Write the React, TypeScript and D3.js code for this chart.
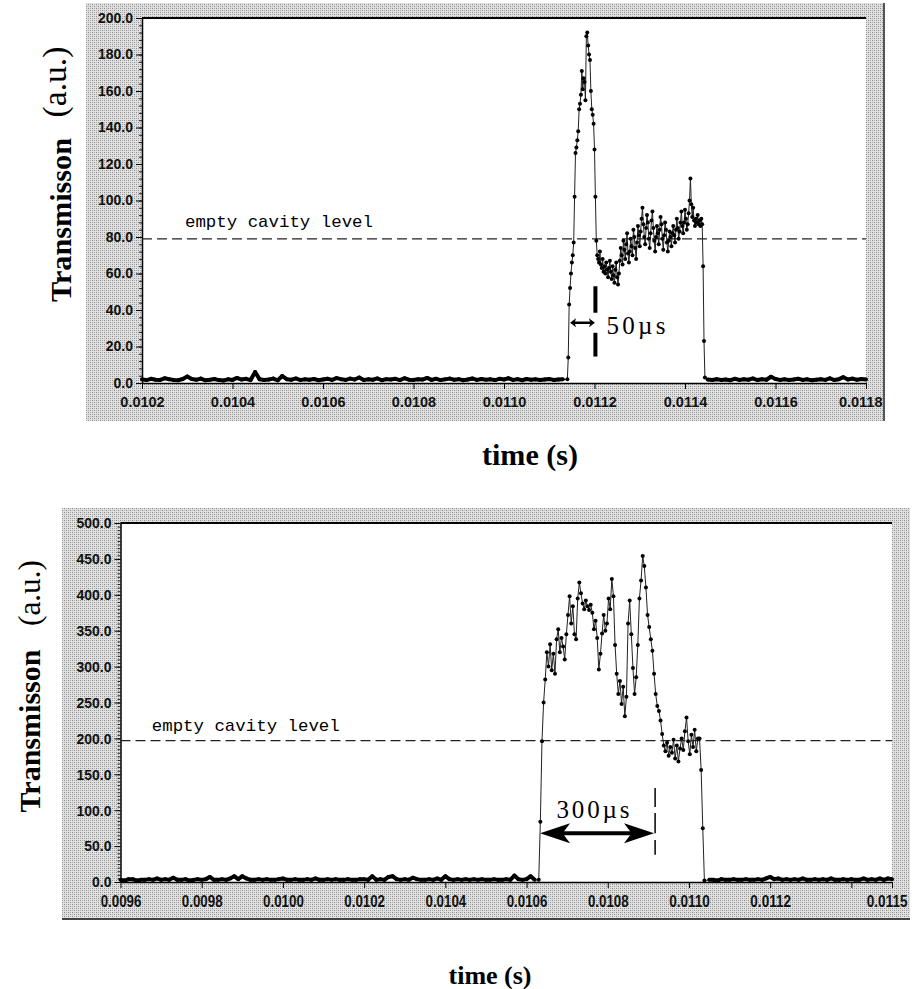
import React, { useEffect, useRef } from "react";
import * as d3 from "d3";

// ---- top trace: baseline sampled every 10 us, pulse every 2 us (a.u.)
const topPreStart = 0.0102;
const topPreValues = [
  2.0, 1.6, 2.3, 1.8, 1.7, 2.6, 2.1, 1.7, 1.5, 2.2,
  3.6, 2.2, 1.8, 2.4, 1.5, 1.8, 2.2, 1.6, 1.4, 2.0,
  1.7, 2.8, 1.9, 2.3, 1.6, 6.0, 2.0, 1.7, 1.9, 2.4,
  1.5, 3.8, 2.1, 1.8, 2.5, 1.6, 2.0, 1.8, 2.2, 1.5,
  1.9, 2.3, 1.7, 2.7, 2.1, 1.7, 2.4, 1.9, 3.0, 1.6,
  2.0, 1.8, 2.5, 1.5, 2.1, 1.9, 2.3, 1.6, 2.6, 1.8,
  1.7, 2.1, 1.9, 2.8, 1.7, 2.3, 1.6, 2.0, 2.4, 1.8,
  2.1, 1.5, 1.9, 2.5, 1.7, 2.2, 1.8, 2.0, 1.6, 2.3,
  1.9, 2.6, 1.7, 2.1, 1.5, 2.2, 1.8, 2.0, 1.6, 1.9,
  2.2, 1.7, 1.9, 2.0,
];
const topPulseStart = 0.01114;
const topPulseValues = [
  2, 14, 43, 52, 60, 66, 70, 77, 102, 126, 129, 133, 138, 150, 153, 158, 171,
  161, 167, 165, 155, 190, 192, 185, 180, 177, 160, 150, 147, 142, 128, 102, 78,
  70, 68, 66, 72, 65, 63, 68, 61, 64, 60, 66, 62,
  58, 63, 67, 61, 57, 64, 59, 55, 62, 66, 58, 54,
  60, 67, 74, 70, 65, 78, 73, 68, 76, 82, 71, 66,
  72, 79, 75, 70, 84, 80, 74, 68, 77, 86, 81, 75,
  83, 90, 96, 87, 80, 76, 85, 92, 88, 79, 74, 82,
  89, 94, 85, 78, 72, 80, 86, 82, 76, 84, 91, 87,
  79, 73, 81, 88, 84, 77, 72, 78, 83, 80, 75, 82,
  86, 81, 77, 84, 90, 85, 79, 83, 88, 94, 86, 82,
  88, 95, 90, 84, 87, 93, 100, 112, 98, 91, 96, 89,
  86, 90, 88, 92, 87, 89, 86, 90, 87, 64, 23, 3,
];
const topPostStart = 0.01145;
const topPostValues = [
  1.9, 1.6, 2.1, 1.7, 1.9, 1.5, 2.3, 1.7, 2.0, 1.8,
  2.5, 1.6, 2.1, 1.8, 3.4, 2.2, 1.7, 2.0, 1.6, 1.9,
  2.3, 1.7, 2.0, 1.5, 1.8, 2.1, 1.7, 2.6, 1.6, 2.1,
  3.2, 1.9, 2.4, 1.8, 2.2, 1.9,
];
const topXTicks = [0.0102, 0.0104, 0.0106, 0.0108, 0.011, 0.0112, 0.0114, 0.0116, 0.0118];
const topXTickLabels = ["0.0102", "0.0104", "0.0106", "0.0108", "0.0110", "0.0112", "0.0114", "0.0116", "0.0118"];
const topYTicks = [0, 20, 40, 60, 80, 100, 120, 140, 160, 180, 200];
const topEmptyLevel = 79;
const topSpanTimes = [0.011146, 0.011201];
const topSpanLevel = 33;
const topMarkerTime = 0.011202;
const topMarkerDashes = [[53, 38.5], [27.5, 14.5]];
const topSpanLabel = "50µs";

// ---- bottom trace: baseline every 10 us, pulse every 4 us (a.u.)
const bottomPreStart = 0.0096;
const bottomPreValues = [
  3, 2, 4, 4, 2, 3, 3, 4, 3, 5,
  3, 4, 3, 6, 3, 3, 4, 2, 3, 4,
  3, 4, 7, 3, 3, 4, 3, 5, 8, 4,
  8, 5, 3, 3, 4, 3, 4, 3, 3, 4,
  5, 3, 3, 4, 3, 3, 4, 3, 5, 3,
  3, 4, 3, 4, 3, 3, 4, 3, 3, 4,
  4, 3, 8, 3, 4, 3, 7, 8, 4, 3,
  4, 3, 6, 4, 3, 3, 4, 3, 5, 3,
  8, 4, 3, 4, 3, 4, 3, 4, 3, 4,
  3, 3, 4, 3, 3, 4, 3, 9, 4, 3,
  4, 8, 3,
];
const bottomPulseStart = 0.01063;
const bottomPulseValues = [
  3, 84, 196, 250, 282, 320, 300, 331, 295, 318, 290, 338, 352, 320, 340, 328,
  310, 345, 372, 398, 360, 384, 345, 338, 395, 417, 402, 388, 380, 392, 384, 379,
  386, 375, 352, 364, 340, 296, 318, 346, 372, 350, 360, 395, 380, 422, 398, 330,
  290, 262, 280, 248, 272, 231, 258, 360, 392, 345, 298, 262, 285, 330, 395, 420,
  454, 440, 410, 372, 355, 338, 322, 290, 262, 245, 238, 225, 206, 190, 182, 194,
  176, 188, 180, 198, 172, 190, 168, 186, 200, 184, 210, 229, 196, 178, 205, 188,
  212, 182, 200, 200, 156, 75, 2,
];
const bottomPostStart = 0.01105;
const bottomPostValues = [
  3, 3, 2, 4, 3, 3, 4, 3, 3, 4,
  3, 3, 4, 3, 5, 7, 4, 5, 3, 4,
  3, 4, 3, 5, 3, 3, 4, 3, 4, 3,
  5, 3, 3, 4, 3, 4, 3, 3, 5, 3,
  4, 3, 5, 3, 5, 4,
];
const bottomXTicks = [0.0096, 0.0098, 0.01, 0.0102, 0.0104, 0.0106, 0.0108, 0.011, 0.0112, 0.0114, 0.0115];
const bottomXTickLabels = ["0.0096", "0.0098", "0.0100", "0.0102", "0.0104", "0.0106", "0.0108", "0.0110", "0.0112", "", "0.0115"];
const bottomYTicks = [0, 50, 100, 150, 200, 250, 300, 350, 400, 450, 500];
const bottomEmptyLevel = 197;
const bottomSpanTimes = [0.0106333, 0.010914];
const bottomSpanLevel = 68;
const bottomMarkerTime = 0.0109166;
const bottomMarkerDashes = [[131, 104.5], [96, 68], [58.5, 38]];
const bottomSpanLabel = "300µs";

const levelLabel = "empty cavity level";

const seg = (t0, dt, vals) => vals.map((v, i) => ({ t: t0 + i * dt, v }));

const topPanel = {
  frame: [86, 3, 885, 421],
  plot: { left: 142, right: 866, top: 18, bottom: 383 },
  xDomain: [0.0102, 0.0118],
  yDomain: [0, 200],
  xTicks: topXTicks,
  xTickLabels: topXTickLabels,
  yTicks: topYTicks,
  yMinorStep: 4,
  pre: seg(topPreStart, 10e-6, topPreValues),
  pulse: seg(topPulseStart, 2e-6, topPulseValues),
  post: seg(topPostStart, 10e-6, topPostValues),
  level: topEmptyLevel,
  levelLabelAt: 0.010295,
  levelLabelY: 227,
  span: topSpanTimes,
  spanLevel: topSpanLevel,
  markerTime: topMarkerTime,
  markerDashes: topMarkerDashes,
  markerWidth: 4,
  spanLabel: topSpanLabel,
  spanText: { x: 606.5, y: 334, len: 59 },
  head: [6, 4.5],
  shaft: 2.5,
  yFont: { size: 14, perDigit: 0, dot: 0 },
  xFont: { size: 14.5, perDigit: 7.9, dot: 3.9 },
  xFit: false,
  titleX: { x: 530, y: 465, size: 29, len: 96 },
  titleY: { x: 71, y: 220, size: 30, len: 164 },
  unitY: { x: 65.5, y: 82, size: 34, len: 71 },
  shadow: "right",
};

const bottomPanel = {
  frame: [62, 508, 910, 920],
  plot: { left: 120.5, right: 892, top: 523, bottom: 882 },
  xDomain: [0.0096, 0.0115],
  yDomain: [0, 500],
  xTicks: bottomXTicks,
  xTickLabels: bottomXTickLabels,
  yTicks: bottomYTicks,
  yMinorStep: 5,
  pre: seg(bottomPreStart, 10e-6, bottomPreValues),
  pulse: seg(bottomPulseStart, 4e-6, bottomPulseValues),
  post: seg(bottomPostStart, 10e-6, bottomPostValues),
  level: bottomEmptyLevel,
  levelLabelAt: 0.009677,
  levelLabelY: 731,
  span: bottomSpanTimes,
  spanLevel: bottomSpanLevel,
  markerTime: bottomMarkerTime,
  markerDashes: bottomMarkerDashes,
  markerWidth: 1.5,
  spanLabel: bottomSpanLabel,
  spanText: { x: 556.5, y: 818, len: 73 },
  head: [30, 10],
  shaft: 4,
  yFont: { size: 15, perDigit: 7.8, dot: 3.8 },
  xFont: { size: 16, perDigit: 7.4, dot: 3.7 },
  xFit: true,
  titleX: { x: 490, y: 984, size: 26, len: 83 },
  titleY: { x: 40, y: 731, size: 30, len: 163 },
  unitY: { x: 40, y: 593, size: 31, len: 66 },
  shadow: "bottom",
};

const labelWidth = (s, f) => (s.replace(".", "").length * f.perDigit + (s.includes(".") ? f.dot : 0));
const serif = "'Liberation Serif', 'Times New Roman', serif";
const sans = "'Liberation Sans', Arial, sans-serif";

function drawPanel(root, p) {
  const g = root.append("g");
  const [fx0, fy0, fx1, fy1] = p.frame;
  const { left, right, top, bottom } = p.plot;

  g.append("rect").attr("x", fx0).attr("y", fy0).attr("width", fx1 - fx0).attr("height", fy1 - fy0)
    .attr("fill", "url(#dither)");
  if (p.shadow === "right") {
    g.append("line").attr("x1", fx1 - 1).attr("x2", fx1 - 1).attr("y1", fy0).attr("y2", fy1)
      .attr("stroke", "#555").attr("stroke-width", 2);
  } else {
    g.append("line").attr("x1", fx0).attr("x2", fx1).attr("y1", fy1 - 1).attr("y2", fy1 - 1)
      .attr("stroke", "#444").attr("stroke-width", 2);
  }
  g.append("rect").attr("x", left).attr("y", top).attr("width", right - left).attr("height", bottom - top)
    .attr("fill", "white");

  const x = d3.scaleLinear().domain(p.xDomain).range([left, right]);
  const y = d3.scaleLinear().domain(p.yDomain).range([bottom, top]);

  // top border of the plot
  g.append("line").attr("x1", left).attr("x2", right).attr("y1", top).attr("y2", top)
    .attr("stroke", "black").attr("stroke-width", 2);

  // y axis: minor then major ticks
  const minor = d3.range(p.yDomain[0], p.yDomain[1] + 1e-9, p.yMinorStep);
  g.append("g").attr("transform", `translate(${left},0)`)
    .call(d3.axisLeft(y).tickValues(minor).tickSize(3).tickSizeOuter(0).tickFormat(() => ""))
    .call((s) => s.select(".domain").remove())
    .call((s) => s.selectAll("line").attr("stroke", "#222"));
  const ya = g.append("g").attr("transform", `translate(${left},0)`)
    .call(d3.axisLeft(y).tickValues(p.yTicks).tickSize(6).tickSizeOuter(0).tickPadding(3).tickFormat(d3.format(".1f")));
  ya.select(".domain").attr("stroke-width", 1.5);
  ya.selectAll("text")
    .attr("font-family", sans)
    .attr("font-weight", "bold")
    .attr("font-size", p.yFont.size)
    .attr("fill", "#111");
  if (p.yFont.perDigit) {
    ya.selectAll("text").attr("textLength", function () { return labelWidth(this.textContent, p.yFont); })
      .attr("lengthAdjust", "spacingAndGlyphs");
  }

  // x axis
  const xa = g.append("g").attr("transform", `translate(0,${bottom})`)
    .call(d3.axisBottom(x).tickValues(p.xTicks).tickSize(6).tickSizeOuter(0).tickPadding(8)
      .tickFormat((d, i) => p.xTickLabels[i]));
  xa.select(".domain").attr("stroke-width", 1.5);
  xa.selectAll("text")
    .attr("font-family", sans)
    .attr("font-weight", "bold")
    .attr("font-size", p.xFont.size)
    .attr("fill", "#111");
  if (p.xFit) {
    xa.selectAll("text").filter(function () { return this.textContent !== ""; })
      .attr("textLength", function () { return labelWidth(this.textContent, p.xFont); })
      .attr("lengthAdjust", "spacingAndGlyphs");
  }
  // a label that would run past the grey frame is right-aligned to it
  xa.selectAll(".tick").each(function (d) {
    const t = d3.select(this).select("text");
    const w = labelWidth(t.text(), p.xFont);
    if (x(d) + w / 2 > fx1 - 2) {
      t.attr("text-anchor", "end").attr("x", fx1 - 3 - x(d));
    }
  });

  // empty cavity level
  g.append("line").attr("x1", left).attr("x2", right).attr("y1", y(p.level)).attr("y2", y(p.level))
    .attr("stroke", "#222").attr("stroke-width", 1.3).attr("stroke-dasharray", "10,5");
  g.append("text").attr("x", x(p.levelLabelAt)).attr("y", p.levelLabelY)
    .attr("font-family", "'Liberation Mono', 'DejaVu Sans Mono', monospace")
    .attr("font-size", 17).attr("textLength", 188).attr("lengthAdjust", "spacingAndGlyphs")
    .text(levelLabel);

  // trace
  const all = [...p.pre, ...p.pulse, ...p.post];
  const line = d3.line().x((d) => x(d.t)).y((d) => y(d.v));
  g.append("path").datum(all).attr("fill", "none").attr("stroke", "#222").attr("stroke-width", 1).attr("d", line);
  [p.pre, p.post].forEach((s) => {
    g.append("path").datum(s).attr("fill", "none").attr("stroke", "black").attr("stroke-width", 4)
      .attr("stroke-linejoin", "round").attr("d", line);
  });
  g.append("g").selectAll("circle").data(all).join("circle")
    .attr("cx", (d) => x(d.t)).attr("cy", (d) => y(d.v)).attr("r", 2).attr("fill", "black");

  // span arrow
  const [t1, t2] = p.span;
  const ay = y(p.spanLevel);
  const ax1 = x(t1), ax2 = x(t2);
  const [hl, hh] = p.head;
  g.append("line").attr("x1", ax1 + hl * 0.6).attr("x2", ax2 - hl * 0.6).attr("y1", ay).attr("y2", ay)
    .attr("stroke", "black").attr("stroke-width", p.shaft);
  g.append("path").attr("fill", "black")
    .attr("d", `M${ax1},${ay}L${ax1 + hl},${ay - hh}L${ax1 + hl * 0.75},${ay}L${ax1 + hl},${ay + hh}Z` +
      `M${ax2},${ay}L${ax2 - hl},${ay - hh}L${ax2 - hl * 0.75},${ay}L${ax2 - hl},${ay + hh}Z`);
  p.markerDashes.forEach(([a, b]) => {
    g.append("line").attr("x1", x(p.markerTime)).attr("x2", x(p.markerTime)).attr("y1", y(a)).attr("y2", y(b))
      .attr("stroke", "black").attr("stroke-width", p.markerWidth);
  });

  g.append("text").attr("x", p.spanText.x).attr("y", p.spanText.y)
    .attr("font-family", serif).attr("font-size", 25)
    .attr("textLength", p.spanText.len).attr("lengthAdjust", "spacing").text(p.spanLabel);

  // titles
  root.append("text").attr("x", p.titleX.x).attr("y", p.titleX.y).attr("text-anchor", "middle")
    .attr("font-family", serif).attr("font-weight", "bold")
    .attr("font-size", p.titleX.size).attr("textLength", p.titleX.len).attr("lengthAdjust", "spacingAndGlyphs")
    .text("time (s)");
  root.append("text").attr("transform", `translate(${p.titleY.x},${p.titleY.y}) rotate(-90)`)
    .attr("text-anchor", "middle")
    .attr("font-family", serif).attr("font-weight", "bold")
    .attr("font-size", p.titleY.size).attr("textLength", p.titleY.len).attr("lengthAdjust", "spacingAndGlyphs")
    .text("Transmisson");
  root.append("text").attr("transform", `translate(${p.unitY.x},${p.unitY.y}) rotate(-90)`)
    .attr("text-anchor", "middle")
    .attr("font-family", serif).attr("font-weight", "normal")
    .attr("font-size", p.unitY.size).attr("textLength", p.unitY.len).attr("lengthAdjust", "spacingAndGlyphs")
    .text("(a.u.)");
}

const App = () => {
  const ref = useRef(null);

  useEffect(() => {
    const svg = d3.select(ref.current);
    svg.selectAll("*").remove();

    const pat = svg.append("defs").append("pattern").attr("id", "dither")
      .attr("width", 4).attr("height", 4).attr("patternUnits", "userSpaceOnUse");
    pat.append("rect").attr("width", 4).attr("height", 4).attr("fill", "#e0e0e0");
    [[0, 0, "#8c8c8c"], [2, 2, "#8c8c8c"], [2, 0, "#b0b0b0"], [0, 2, "#b0b0b0"]].forEach(([px, py, c]) => {
      pat.append("rect").attr("x", px).attr("y", py).attr("width", 1).attr("height", 1).attr("fill", c);
    });

    drawPanel(svg, topPanel);
    drawPanel(svg, bottomPanel);
  }, []);

  return (
    <svg ref={ref} width={912} height={989} style={{ position: "absolute", left: 0, top: 0, background: "white" }} />
  );
};

export default App;
